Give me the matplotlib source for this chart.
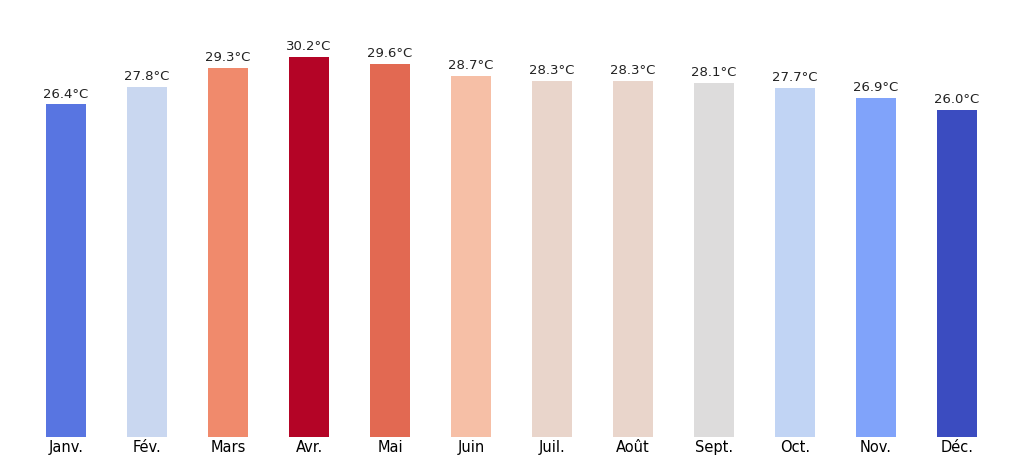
import matplotlib
matplotlib.use("Agg")
import matplotlib.pyplot as plt
import numpy as np

months = ["Janv.", "Fév.", "Mars", "Avr.", "Mai", "Juin", "Juil.", "Août", "Sept.", "Oct.", "Nov.", "Déc."]
temps = [26.4, 27.8, 29.3, 30.2, 29.6, 28.7, 28.3, 28.3, 28.1, 27.7, 26.9, 26.0]

fig = plt.figure(figsize=(10.24, 4.65), dpi=100)
ax = fig.add_axes([0.025, 0.06, 0.949, 0.867])
norm = plt.Normalize(min(temps), max(temps))
cmap = plt.get_cmap("coolwarm")
x = np.arange(len(months))
ax.bar(x, temps, width=0.5, color=[cmap(norm(t)) for t in temps])
for xi, t in zip(x, temps):
    ax.text(xi, t + 0.3, f"{t:.1f}°C", ha="center", va="bottom", fontsize=9.5, color="#222222")
ax.set_xlim(-0.5, len(months) - 0.5)
ax.set_ylim(0, 32)
ax.set_xticks(x)
ax.set_xticklabels(months, fontsize=10.5)
ax.tick_params(axis="x", length=0, pad=2)
ax.set_yticks([])
for s in ax.spines.values():
    s.set_visible(False)
fig.savefig("out.png", dpi=100)
